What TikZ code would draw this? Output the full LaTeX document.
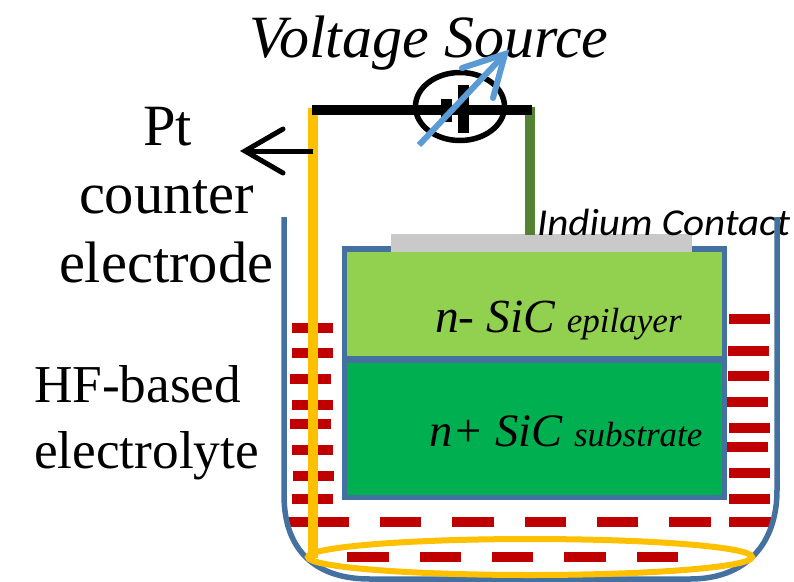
\documentclass[tikz,border=0pt]{standalone}
\usepackage{fontspec}
\usetikzlibrary{shapes.geometric}
\setmainfont{Liberation Serif}
\newfontfamily\calfont[FakeStretch=1.08]{Carlito}
\definecolor{beaker}{HTML}{44719F}
\definecolor{epi}{HTML}{92D050}
\definecolor{subs}{HTML}{00B050}
\definecolor{wirey}{HTML}{FFC000}
\definecolor{wireg}{HTML}{548235}
\definecolor{arrowb}{HTML}{5B9BD5}
\definecolor{elec}{HTML}{C00000}
\definecolor{contact}{HTML}{C9C9C9}
\newcommand{\fs}[1]{\fontsize{#1}{#1}\selectfont}
\tikzset{
  x=1pt,y=-1pt,
  lbl/.style={inner sep=0pt,outer sep=0pt,anchor=base west,text=black},
  layerbox/.style={draw=beaker,line width=5.5pt,line join=miter,inner sep=0pt,outer sep=0pt,anchor=north west},
  wire/.style={line width=10pt},
  dashr/.style={fill=elec,draw=none},
}
\newcommand{\rd}[3]{\fill[dashr] (#1,#3-5) rectangle (#2,#3+5);}
\begin{document}
\begin{tikzpicture}
\useasboundingbox (0,0) rectangle (794,581);
% layers
\node[layerbox,fill=epi,minimum width=380pt,minimum height=110pt] (epibox) at (344.5,249) {};
\node[layerbox,fill=subs,minimum width=380pt,minimum height=138.5pt] (subbox) at (344.5,359) {};
\draw[beaker,line width=7pt] (epibox.south west) -- (epibox.south east);
\node[fill=contact,minimum width=301pt,minimum height=18pt,inner sep=0pt,outer sep=0pt,anchor=north west] (indium) at (391,234) {};
% electrolyte dashes
\foreach \y/\a in {328/292,353/292,379/290,405/292,424/290,450/292,476/293,499/292}{\pgfmathsetmacro{\b}{\a+41}\rd{\a}{\b}{\y}}
\foreach \y/\a in {319/729,351/728,376/728,402/727,428/729,447/727,473/729,499/729}{\pgfmathsetmacro{\b}{\a+41}\rd{\a}{\b}{\y}}
\foreach \a/\b in {285/349,380/421,452/494,525/566,597/638,669/711,729/771}{\rd{\a}{\b}{522}}
\foreach \a/\b in {347/389,420/461,492/533,564/606,637/678}{\rd{\a}{\b}{557}}
% labels
\node[lbl,font=\fs{60}\itshape] (vs) at (249,57) {Voltage Source};
\node[lbl,font=\fs{58.5}] (pt) at (143,145) {Pt};
\node[lbl,font=\fs{58.5}] (counter) at (79,213) {counter};
\node[lbl,font=\fs{58.5}] (electrode) at (59,282) {electrode};
\node[lbl,font=\fs{53.3}] (hf) at (34,402) {HF-based};
\node[lbl,font=\fs{53.3}] (electrolyte) at (34,468) {electrolyte};
\node[lbl,font=\fs{47.5}\itshape] (nminus) at (435,332) {n- SiC {\fs{35}epilayer}};
\node[lbl,font=\fs{46.5}\itshape] (nplus) at (429,446) {n+ SiC {\fs{35}substrate}};
\node[lbl,font=\fs{38}\calfont\itshape] (incontact) at (537,235) {Indium Contact};
% beaker
\coordinate (bl) at (284,217);
\coordinate (br) at (777,217);
\draw[draw=beaker,line width=5.5pt] (bl) -- (284,495) .. controls (284,550) and (315,579) .. (370,579) -- (690,579) .. controls (745,579) and (777,545) .. (777,490) -- (br);
% wires
\coordinate (tl) at (312,110);
\coordinate (tr) at (532,110);
\coordinate (yb) at (312.5,558);
\coordinate (gb) at (530,235);
\coordinate (yt) at (312.5,108);
\coordinate (gt) at (530,107);
\draw[wirey,line width=6pt] (530,557) ellipse [x radius=222,y radius=18];
\draw[wirey,line width=10pt] (yt) -- (yb);
\draw[wireg,line width=10pt] (gt) -- (gb);
\draw[black,wire] (tl) -- (tr);
% source
\node[draw=black,line width=5.5pt,ellipse,minimum width=89pt,minimum height=68pt,inner sep=0pt,outer sep=0pt] (src) at (460,106.5) {};
\fill[black] (441,99) rectangle (452,122);
\fill[black] (458,85) rectangle (469,133);
\coordinate (arrA) at (419,145);
\coordinate (arrB) at (505,54);
\draw[arrowb,line width=6pt] (arrA) -- (arrB);
\draw[arrowb,line width=6pt,line cap=round,miter limit=10] (462,68) -- (arrB) -- (493,98);
% pointer arrow
\coordinate (pa) at (313,151);
\coordinate (pb) at (245,151);
\draw[black,line width=5pt] (pa) -- (pb);
\draw[black,line width=5pt,line cap=round] (283,129) -- (pb) -- (283,173);
\end{tikzpicture}
\end{document}
